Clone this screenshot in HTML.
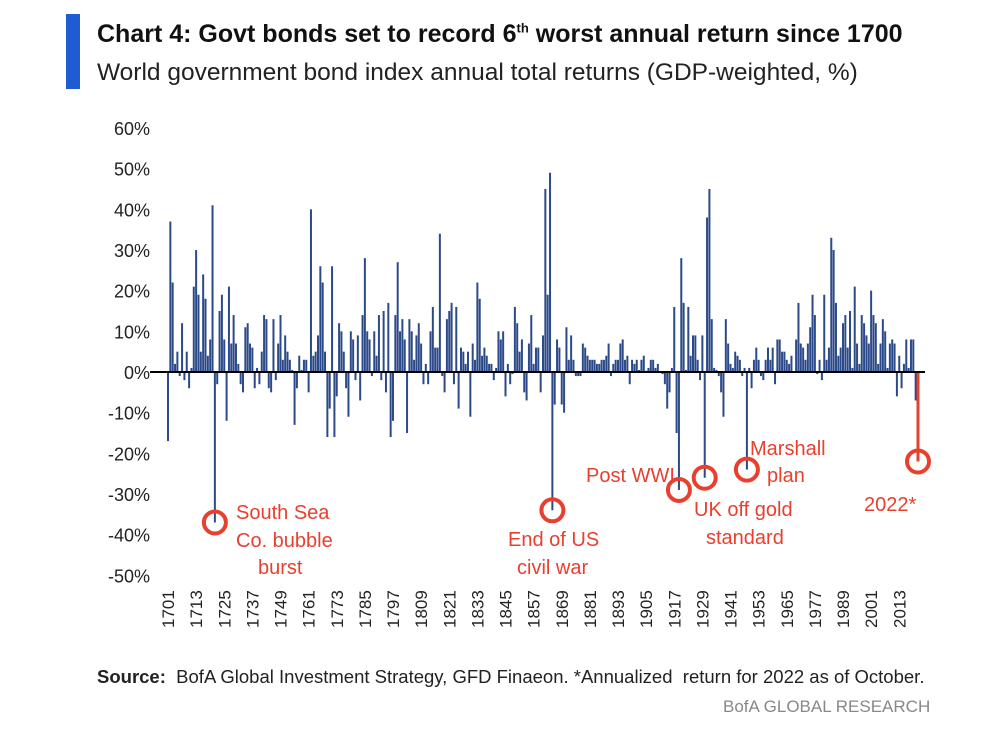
<!DOCTYPE html>
<html><head><meta charset="utf-8">
<style>
body{margin:0;background:#fff;font-family:"Liberation Sans",sans-serif;}
#wrap{position:relative;width:985px;height:740px;overflow:hidden;}
.t{position:absolute;white-space:nowrap;}
</style></head>
<body>
<div id="wrap">
<div style="position:absolute;left:66px;top:14px;width:14px;height:75px;background:#1f5bd1"></div>
<div class="t" style="left:97px;top:20px;font-size:25px;font-weight:bold;color:#111;letter-spacing:0px">Chart 4: Govt bonds set to record 6<sup style="font-size:13px">th</sup> worst annual return since 1700</div>
<div class="t" style="left:97px;top:59px;font-size:24.5px;color:#222">World government bond index annual total returns (GDP-weighted, %)</div>
<svg id="chart" width="985" height="740" style="position:absolute;left:0;top:0"></svg>
<div class="t" style="left:97px;top:666px;font-size:18.5px;color:#222"><b>Source:</b>&nbsp; BofA Global Investment Strategy, GFD Finaeon. *Annualized&nbsp; return for 2022 as of October.</div>
<div class="t" style="left:723px;top:697px;font-size:17px;color:#888">BofA GLOBAL RESEARCH</div>
</div>
<script>
const startYear = 1701;
const yTicks = [60,50,40,30,20,10,0,-10,-20,-30,-40,-50];
const xTickYears = [1701,1713,1725,1737,1749,1761,1773,1785,1797,1809,1821,1833,1845,1857,1869,1881,1893,1905,1917,1929,1941,1953,1965,1977,1989,2001,2013];
const returns1 = [-17,37,22,2,5,-1,12,-2,5,-4,1,21,30,19,5,24,18,4,8,41,-37,-3,15,19,8,-12,21,7,14,7,2,-3,-5,11,12,7,6,-4,1,-3,5,14,13,-4,-5,13,-2,7,14,3,9,5,3,0.5,-13,-4,4,0.5,3,3,-5,40,4,5,9,26,22,5,-16,-9,26,-16,-6,12,10,5,-4,-11,10,8];
const returns2 = [-2,9,-7,14,28,10,8,-1,10,4,14,-2,15,-5,17,-16,-12,14,27,10,13,8,-15,13,10,3,9,12,7,-3,2,-3,10,16,6,6,34,-1,-5,13,15,17,-3,16,-9,6,5,2,5,-11,7,3,22,18,4,6,4,2,2,-2,1,10,8,10,-6,2,-3,-0.5,16,12,5,8,-5,-7,7,14,2,6,6,-5,9,45,19,49,-34,-8,8,6,-8,-10,11,3];
const returns3 = [9,3,-1,-1,-1,7,6,4,3,3,3,2,2,3,3,4,7,-1,2,3,3,7,8,3,4,-3,3,2,3,0.5,3,4,0.3,1,3,3,1,2,0,-0.5,-3,-9,-5,1,16,-15,-29,28,17,0.5,16,4,9,9,3,-2,9,-26,38,45,13,1,0.5,-1,-5,-11,13,7,2,1,5,4,3,-1,1,-24,1,-4,3,6,3,-1,-2];
const returns4 = [3,6,3,6,-3,8,8,5,5,3,2,4,0,8,17,7,6,3,7,11,19,14,-0.5,3,-2,19,3,6,33,30,17,4,6,12,14,6,15,1,21,7,2,14,12,9,7,20,14,12,2,7,13,10,1,7,8,7,-6,4,-4,2,8,1,8,8,-7,-22];
const values = returns1.concat(returns2, returns3, returns4);
const annYears = [1721,1866,1920,1931,1949,2022];
const annNames = ['south-sea','civil-war','post-wwi','uk-gold','marshall','2022'];
const NS = "http://www.w3.org/2000/svg";
const svg = document.getElementById('chart');
const y0 = 372, pxPer = 4.067;
const x0 = 168, xLast = 918;
const endYear = startYear + values.length - 1;
function yScale(v){ return y0 - v*pxPer; }
function xScale(year){ return x0 + (year-startYear)*(xLast-x0)/(values.length-1); }
function mk(tag, attrs){ const e=document.createElementNS(NS,tag); for(const k in attrs) e.setAttribute(k,attrs[k]); svg.appendChild(e); return e; }
yTicks.forEach(v=>{
  const t = mk('text',{x:150,y:yScale(v)+7,'text-anchor':'end','font-size':18,fill:'#222','font-family':'Liberation Sans, sans-serif'});
  t.textContent = v+'%';
  
  
});
xTickYears.forEach(yr=>{
  const x = xScale(yr)+6;
  const t = mk('text',{x:x,y:628,transform:`rotate(-90 ${x} 628)`,'font-size':17,fill:'#222','font-family':'Liberation Sans, sans-serif'});
  t.textContent = yr;
  
  
});
values.forEach((v,i)=>{
  const yr = startYear+i;
  const last = i===values.length-1;
  const x = xScale(yr);
  const top = Math.min(yScale(v),y0), h = Math.abs(yScale(v)-y0);
  const r = mk('rect',{x:x-(last?1.5:1),y:top,width:last?3:2,height:Math.max(h,0.5),fill:last?'#e8402f':'#2c4a8a'});
  
  
});
const ax = mk('line',{x1:150,x2:925,y1:y0,y2:y0,stroke:'#000','stroke-width':2});


annYears.forEach((yr,k)=>{
  let best = Math.min(yr, endYear) - startYear;
  if (k < annYears.length-1) {
    for (let j=best-4;j<=best+4;j++){ if (j>=0 && j<values.length && values[j]<values[best]) best=j; }
  } else { best = values.length-1; }
  const c = mk('circle',{cx:xScale(startYear+best),cy:yScale(values[best]),r:11,fill:'none',stroke:'#e8402f','stroke-width':4});
  
  
});
const labels = [[236,513,'South Sea'],[236,541,'Co. bubble'],[258,568,'burst'],[508,540,'End of US'],[517,568,'civil war'],[586,476,'Post WWI'],[694,510,'UK off gold'],[706,538,'standard'],[750,449,'Marshall'],[767,476,'plan'],[864,505,'2022*']];
labels.forEach(l=>{
  const t = mk('text',{x:l[0],y:l[1]+6,'font-size':20,fill:'#e8402f','font-family':'Liberation Sans, sans-serif'});
  t.textContent = l[2];
  
  
});
</script>
</body></html>
